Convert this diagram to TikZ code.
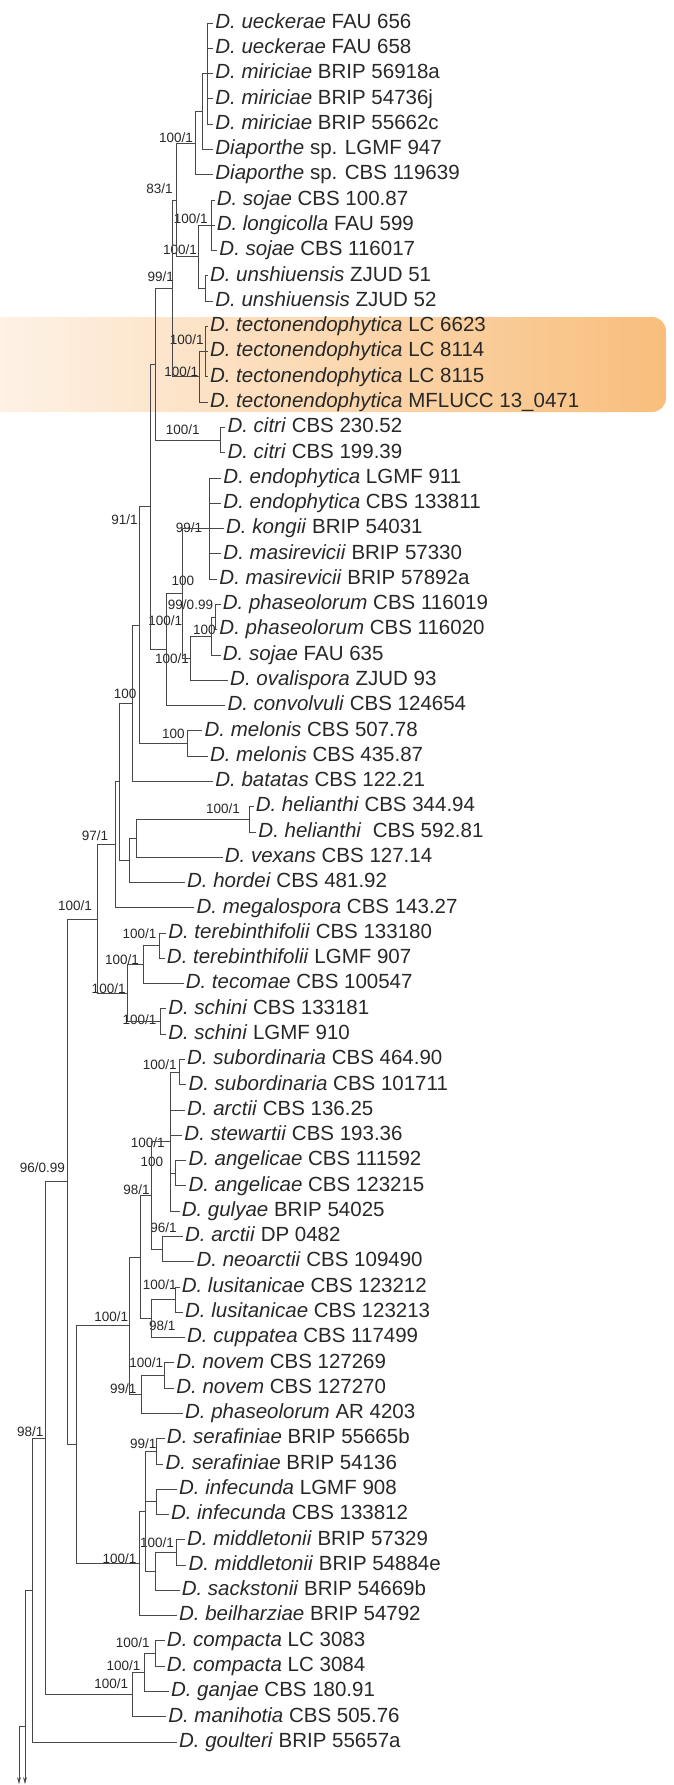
\documentclass[tikz,border=0pt]{standalone}
\usepackage{fontspec}
\setmainfont{Liberation Sans}
\usetikzlibrary{arrows.meta}
\definecolor{bandL}{RGB}{254,244,234}
\definecolor{bandR}{RGB}{248,190,124}
\definecolor{ink}{RGB}{40,40,40}
\tikzset{
  leaf/.style={anchor=west, inner xsep=2pt, inner ysep=0pt, text height=14.7pt, text depth=4.2pt,
               font=\fontsize{20.5}{22}\selectfont, text=ink},
  sup/.style={anchor=east, inner sep=0pt, text height=9.6pt, text depth=0pt,
              font=\fontsize{13.5}{14}\selectfont, text=ink},
  br/.style={draw=ink!85, line width=0.85pt},
}
\newcommand\kids[2]{\foreach \c in {#2} {\draw[br] (#1) |- (\c);}}
\begin{document}
\begin{tikzpicture}[x=1pt,y=-1pt]
\path[use as bounding box] (0pt,0pt) rectangle (673pt,-1785pt);
% highlight band
\shade[left color=bandL, right color=bandR, rounded corners=14pt] (-30,317) rectangle (666,412);
\begin{scope}[xshift=-15.6pt, xscale=1.346]
% leaves
\node[leaf] (L1) at (170,23.0) {\textit{D. ueckerae} FAU 656};
\node[leaf] (L2) at (170,48.3) {\textit{D. ueckerae} FAU 658};
\node[leaf] (L3) at (170,73.6) {\textit{D. miriciae} BRIP 56918a};
\node[leaf] (L4) at (170,98.8) {\textit{D. miriciae} BRIP 54736j};
\node[leaf] (L5) at (170,124.1) {\textit{D. miriciae} BRIP 55662c};
\node[leaf] (L6) at (170,149.4) {\textit{Diaporthe} sp. LGMF 947};
\node[leaf] (L7) at (170,174.7) {\textit{Diaporthe} sp. CBS 119639};
\node[leaf] (L8) at (171,200.0) {\textit{D. sojae} CBS 100.87};
\node[leaf] (L9) at (171,225.2) {\textit{D. longicolla} FAU 599};
\node[leaf] (L10) at (173,250.5) {\textit{D. sojae} CBS 116017};
\node[leaf] (L11) at (166,275.8) {\textit{D. unshiuensis} ZJUD 51};
\node[leaf] (L12) at (170,301.1) {\textit{D. unshiuensis} ZJUD 52};
\node[leaf] (L13) at (166,326.4) {\textit{D. tectonendophytica} LC 6623};
\node[leaf] (L14) at (166,351.6) {\textit{D. tectonendophytica} LC 8114};
\node[leaf] (L15) at (166,376.9) {\textit{D. tectonendophytica} LC 8115};
\node[leaf] (L16) at (166,402.2) {\textit{D. tectonendophytica} MFLUCC 13\_0471};
\node[leaf] (L17) at (179,427.5) {\textit{D. citri} CBS 230.52};
\node[leaf] (L18) at (179,452.8) {\textit{D. citri} CBS 199.39};
\node[leaf] (L19) at (176,478.0) {\textit{D. endophytica} LGMF 911};
\node[leaf] (L20) at (176,503.3) {\textit{D. endophytica} CBS 133811};
\node[leaf] (L21) at (178,528.6) {\textit{D. kongii} BRIP 54031};
\node[leaf] (L22) at (176,553.9) {\textit{D. masirevicii} BRIP 57330};
\node[leaf] (L23) at (173,579.2) {\textit{D. masirevicii} BRIP 57892a};
\node[leaf] (L24) at (175.5,604.4) {\textit{D. phaseolorum} CBS 116019};
\node[leaf] (L25) at (173,629.7) {\textit{D. phaseolorum} CBS 116020};
\node[leaf] (L26) at (175.5,655.0) {\textit{D. sojae} FAU 635};
\node[leaf] (L27) at (181,680.3) {\textit{D. ovalispora} ZJUD 93};
\node[leaf] (L28) at (179,705.6) {\textit{D. convolvuli} CBS 124654};
\node[leaf] (L29) at (162,730.8) {\textit{D. melonis} CBS 507.78};
\node[leaf] (L30) at (166,756.1) {\textit{D. melonis} CBS 435.87};
\node[leaf] (L31) at (170,781.4) {\textit{D. batatas} CBS 122.21};
\node[leaf] (L32) at (200,806.7) {\textit{D. helianthi} CBS 344.94};
\node[leaf] (L33) at (202,832.0) {\textit{D. helianthi}\ \ CBS 592.81};
\node[leaf] (L34) at (177,857.2) {\textit{D. vexans} CBS 127.14};
\node[leaf] (L35) at (149,882.5) {\textit{D. hordei} CBS 481.92};
\node[leaf] (L36) at (156,907.8) {\textit{D. megalospora} CBS 143.27};
\node[leaf] (L37) at (135,933.1) {\textit{D. terebinthifolii} CBS 133180};
\node[leaf] (L38) at (134,958.4) {\textit{D. terebinthifolii} LGMF 907};
\node[leaf] (L39) at (148,983.6) {\textit{D. tecomae} CBS 100547};
\node[leaf] (L40) at (135,1008.9) {\textit{D. schini} CBS 133181};
\node[leaf] (L41) at (135,1034.2) {\textit{D. schini} LGMF 910};
\node[leaf] (L42) at (149,1059.5) {\textit{D. subordinaria} CBS 464.90};
\node[leaf] (L43) at (150,1084.8) {\textit{D. subordinaria} CBS 101711};
\node[leaf] (L44) at (149,1110.0) {\textit{D. arctii} CBS 136.25};
\node[leaf] (L45) at (147,1135.3) {\textit{D. stewartii} CBS 193.36};
\node[leaf] (L46) at (150,1160.6) {\textit{D. angelicae} CBS 111592};
\node[leaf] (L47) at (150,1185.9) {\textit{D. angelicae} CBS 123215};
\node[leaf] (L48) at (145,1211.2) {\textit{D. gulyae} BRIP 54025};
\node[leaf] (L49) at (147.5,1236.4) {\textit{D. arctii} DP 0482};
\node[leaf] (L50) at (156,1261.7) {\textit{D. neoarctii} CBS 109490};
\node[leaf] (L51) at (145,1287.0) {\textit{D. lusitanicae} CBS 123212};
\node[leaf] (L52) at (147.5,1312.3) {\textit{D. lusitanicae} CBS 123213};
\node[leaf] (L53) at (149,1337.6) {\textit{D. cuppatea} CBS 117499};
\node[leaf] (L54) at (141,1362.8) {\textit{D. novem} CBS 127269};
\node[leaf] (L55) at (141,1388.1) {\textit{D. novem} CBS 127270};
\node[leaf] (L56) at (147.5,1413.4) {\textit{D. phaseolorum} AR 4203};
\node[leaf] (L57) at (134,1438.7) {\textit{D. serafiniae} BRIP 55665b};
\node[leaf] (L58) at (133,1464.0) {\textit{D. serafiniae} BRIP 54136};
\node[leaf] (L59) at (143,1489.2) {\textit{D. infecunda} LGMF 908};
\node[leaf] (L60) at (137,1514.5) {\textit{D. infecunda} CBS 133812};
\node[leaf] (L61) at (149,1539.8) {\textit{D. middletonii} BRIP 57329};
\node[leaf] (L62) at (150,1565.1) {\textit{D. middletonii} BRIP 54884e};
\node[leaf] (L63) at (145,1590.4) {\textit{D. sackstonii} BRIP 54669b};
\node[leaf] (L64) at (143,1615.6) {\textit{D. beilharziae} BRIP 54792};
\node[leaf] (L65) at (134,1640.9) {\textit{D. compacta} LC 3083};
\node[leaf] (L66) at (134,1666.2) {\textit{D. compacta} LC 3084};
\node[leaf] (L67) at (137,1691.5) {\textit{D. ganjae} CBS 180.91};
\node[leaf] (L68) at (135,1716.8) {\textit{D. manihotia} CBS 505.76};
\node[leaf] (L69) at (143,1742.0) {\textit{D. goulteri} BRIP 55657a};
% internal nodes
\coordinate (N1a) at (166,73.55);
\coordinate (N1) at (162,111.5);
\coordinate (N2) at (157,143.1);
\coordinate (C1) at (169,225.25);
\coordinate (C2) at (164,288.45);
\coordinate (C) at (159,256.85);
\coordinate (B) at (143,199.98);
\coordinate (T1) at (164,351.65);
\coordinate (T) at (160,376.9);
\coordinate (D) at (140,288.45);
\coordinate (CI) at (175,440.15);
\coordinate (E) at (127,364.3);
\coordinate (G1) at (167,528.6);
\coordinate (P1) at (172,617.05);
\coordinate (P) at (169,636.0);
\coordinate (R) at (153,658.15);
\coordinate (Q) at (147,593.4);
\coordinate (U) at (135,649.5);
\coordinate (F) at (123,506.9);
\coordinate (M) at (151,743.45);
\coordinate (H) at (115,625.2);
\coordinate (V) at (110,703.3);
\coordinate (HE) at (197,819.35);
\coordinate (HV) at (113,838.3);
\coordinate (HH) at (108,860.4);
\coordinate (X) at (100,781.85);
\coordinate (Z) at (97,844.8);
\coordinate (TE) at (130,945.75);
\coordinate (TT1) at (118,964.7);
\coordinate (SC) at (131,1021.55);
\coordinate (TT) at (106,993.1);
\coordinate (AA) at (84,918.95);
\coordinate (S) at (145,1072.15);
\coordinate (AN) at (142,1173.25);
\coordinate (S2) at (138,1141.7);
\coordinate (AR) at (132,1249.05);
\coordinate (K1a) at (124,1195.4);
\coordinate (LU) at (142,1299.65);
\coordinate (K2) at (124,1318.6);
\coordinate (K) at (116,1257.0);
\coordinate (NV) at (134,1375.45);
\coordinate (NP) at (117,1394.4);
\coordinate (BC) at (108,1325.7);
\coordinate (SE) at (128,1451.35);
\coordinate (IN) at (128,1501.85);
\coordinate (MI) at (143,1552.45);
\coordinate (MS) at (127,1571.4);
\coordinate (X1) at (120,1511.4);
\coordinate (BD) at (115,1563.5);
\coordinate (BB) at (68,1444.6);
\coordinate (CO) at (127,1653.55);
\coordinate (CG) at (119,1672.5);
\coordinate (CP) at (110,1694.65);
\coordinate (AB) at (62,1181.8);
\coordinate (AC) at (45,1438.2);
% support values
\node[sup] (s1) at (155,138) {100/1};
\node[sup] (s2) at (140,189) {83/1};
\node[sup] (s3) at (166,219) {100/1};
\node[sup] (s4) at (158,250) {100/1};
\node[sup] (s5) at (141,277) {99/1};
\node[sup] (s6) at (163,340) {100/1};
\node[sup] (s7) at (159,372) {100/1};
\node[sup] (s8) at (160,430) {100/1};
\node[sup] (s9) at (114,520) {91/1};
\node[sup] (s10) at (162,528) {99/1};
\node[sup] (s11) at (156,581) {100};
\node[sup] (s12) at (170,605) {99/0.99};
\node[sup] (s13) at (147,621) {100/1};
\node[sup] (s14) at (172,630) {100};
\node[sup] (s15) at (152,659) {100/1};
\node[sup] (s16) at (113,694) {100};
\node[sup] (s17) at (149,734) {100};
\node[sup] (s18) at (190,809) {100/1};
\node[sup] (s19) at (92,836) {97/1};
\node[sup] (s20) at (80,906) {100/1};
\node[sup] (s21) at (128,934) {100/1};
\node[sup] (s22) at (115,960) {100/1};
\node[sup] (s23) at (105,989) {100/1};
\node[sup] (s24) at (128,1020) {100/1};
\node[sup] (s25) at (143,1065) {100/1};
\node[sup] (s26) at (134,1143) {100/1};
\node[sup] (s27) at (133,1162) {100};
\node[sup] (s28) at (60,1168) {96/0.99};
\node[sup] (s29) at (123,1190) {98/1};
\node[sup] (s30) at (143,1228) {96/1};
\node[sup] (s31) at (143,1285) {100/1};
\node[sup] (s32) at (107,1317) {100/1};
\node[sup] (s33) at (142,1326) {98/1};
\node[sup] (s34) at (133,1363) {100/1};
\node[sup] (s35) at (113,1389) {99/1};
\node[sup] (s36) at (44,1432) {98/1};
\node[sup] (s37) at (128,1444) {99/1};
\node[sup] (s38) at (141,1543) {100/1};
\node[sup] (s39) at (113,1559) {100/1};
\node[sup] (s40) at (123,1643) {100/1};
\node[sup] (s41) at (116,1666) {100/1};
\node[sup] (s42) at (107,1684) {100/1};
\end{scope}
% root part (untransformed)
\coordinate (AD) at (32,1590.1);
\coordinate (R0) at (25,1590.1);
\coordinate (R1) at (25,1726);
\coordinate (R2) at (19,1726);
\coordinate (A1) at (25,1784);
\coordinate (A2) at (19,1784);
% branches
\kids{N1a}{L1.west,L2.west,L3.west,L4.west,L5.west}
\kids{N1}{N1a,L6.west}
\kids{N2}{N1,L7.west}
\kids{C1}{L8.west,L9.west,L10.west}
\kids{C2}{L11.west,L12.west}
\kids{C}{C1,C2}
\kids{B}{N2,C}
\kids{T1}{L13.west,L14.west,L15.west}
\kids{T}{T1,L16.west}
\kids{D}{B,T}
\kids{CI}{L17.west,L18.west}
\kids{E}{D,CI}
\kids{G1}{L19.west,L20.west,L21.west,L22.west,L23.west}
\kids{P1}{L24.west,L25.west}
\kids{P}{P1,L26.west}
\kids{R}{P,L27.west}
\kids{Q}{G1,R}
\kids{U}{Q,L28.west}
\kids{F}{E,U}
\kids{M}{L29.west,L30.west}
\kids{H}{F,M}
\kids{V}{H,L31.west}
\kids{HE}{L32.west,L33.west}
\kids{HV}{HE,L34.west}
\kids{HH}{HV,L35.west}
\kids{X}{V,HH}
\kids{Z}{X,L36.west}
\kids{TE}{L37.west,L38.west}
\kids{TT1}{TE,L39.west}
\kids{SC}{L40.west,L41.west}
\kids{TT}{TT1,SC}
\kids{AA}{Z,TT}
\kids{S}{L42.west,L43.west}
\kids{AN}{L46.west,L47.west}
\kids{S2}{S,L44.west,L45.west,AN,L48.west}
\kids{AR}{L49.west,L50.west}
\kids{K1a}{S2,AR}
\kids{LU}{L51.west,L52.west}
\kids{K2}{LU,L53.west}
\kids{K}{K1a,K2}
\kids{NV}{L54.west,L55.west}
\kids{NP}{NV,L56.west}
\kids{BC}{K,NP}
\kids{SE}{L57.west,L58.west}
\kids{IN}{L59.west,L60.west}
\kids{MI}{L61.west,L62.west}
\kids{MS}{MI,L63.west}
\kids{X1}{SE,IN,MS}
\kids{BD}{X1,L64.west}
\kids{BB}{BC,BD}
\kids{CO}{L65.west,L66.west}
\kids{CG}{CO,L67.west}
\kids{CP}{CG,L68.west}
\kids{AB}{AA,BB}
\kids{AC}{AB,CP}
\kids{AD}{AC,L69.west}
\draw[br] (R0) -- (AD);
\draw[br,-{Stealth[length=7pt,width=4pt]}] (R0) -- (A1);
\draw[br] (R1) -- (R2);
\draw[br,-{Stealth[length=7pt,width=4pt]}] (R2) -- (A2);
\end{tikzpicture}
\end{document}
